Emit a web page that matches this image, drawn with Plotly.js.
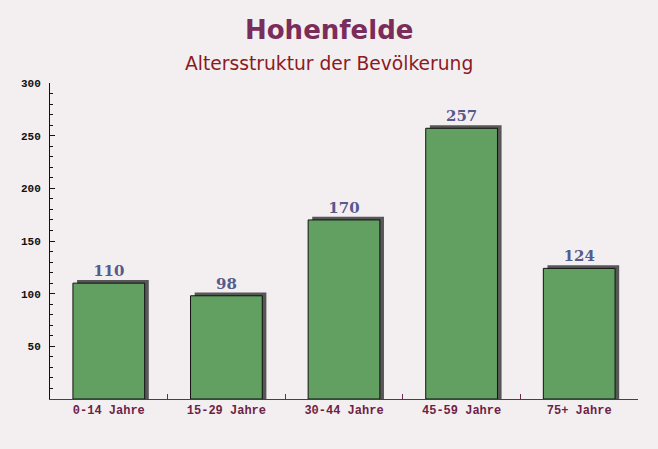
<!DOCTYPE html>
<html>
<head>
<meta charset="utf-8">
<script src="https://cdn.plot.ly/plotly-3.0.1.min.js"></script>
<style>html,body{margin:0;padding:0;background:#f3eff1;}</style>
</head>
<body>
<div id="chart" style="width:658px;height:449px;"></div>
<script>
const categories = ["0-14 Jahre", "15-29 Jahre", "30-44 Jahre", "45-59 Jahre", "75+ Jahre"];
const values = [110, 98, 170, 257, 124];
const yTicks = [50, 100, 150, 200, 250, 300];
const titleText = "Hohenfelde";
const subtitleText = "Altersstruktur der Bevölkerung";

const barWidth = 0.61;
const shadowDx = 0.035;
const shadowDy = 3;

const shadow = {
  type: "bar",
  x: categories,
  y: values.map(v => v + shadowDy),
  width: barWidth,
  offset: -barWidth / 2 + shadowDx,
  marker: {color: "rgba(70,70,70,0.9)", line: {width: 0}},
  hoverinfo: "skip",
  showlegend: false
};

const bars = {
  type: "bar",
  x: categories,
  y: values,
  width: barWidth,
  offset: -barWidth / 2,
  marker: {color: "rgb(98,160,98)", line: {color: "#111", width: 1}},
  text: values.map(String),
  textposition: "outside",
  cliponaxis: false,
  textfont: {family: "DejaVu Serif, serif", size: 15, color: "#555b8a", weight: "bold"},
  showlegend: false
};

const cx = (329 - 50) / 588;

const layout = {
  width: 658,
  height: 449,
  paper_bgcolor: "#f3eff1",
  plot_bgcolor: "rgba(0,0,0,0)",
  margin: {l: 50, r: 20, t: 83, b: 50},
  barmode: "overlay",
  annotations: [
    {text: "<b>" + titleText + "</b>", xref: "paper", yref: "paper", x: cx, y: 1, yshift: 53,
     xanchor: "center", yanchor: "middle", showarrow: false,
     font: {family: "DejaVu Sans, sans-serif", size: 26, color: "#7a2d5a"}},
    {text: subtitleText, xref: "paper", yref: "paper", x: cx, y: 1, yshift: 20,
     xanchor: "center", yanchor: "middle", showarrow: false,
     font: {family: "DejaVu Sans, sans-serif", size: 18.7, color: "#8b1a24"}}
  ],
  xaxis: {
    type: "category",
    range: [-0.5, 4.5],
    showline: true, linecolor: "#6e2a4e", linewidth: 1,
    ticks: "inside", tickson: "boundaries", ticklen: 5, tickcolor: "#6e2a4e",
    tickfont: {family: "Liberation Mono, DejaVu Sans Mono, monospace", size: 12, color: "#6e1f46", weight: "bold"},
    showgrid: false, zeroline: false, fixedrange: true
  },
  yaxis: {
    range: [0, 300],
    tickvals: yTicks,
    ticktext: yTicks.map(String),
    showline: true, linecolor: "#111", linewidth: 1,
    ticks: "inside", ticklen: 5, tickcolor: "#111",
    ticklabelstandoff: 6,
    minor: {dtick: 10, ticks: "inside", ticklen: 3, tickcolor: "#111"},
    tickfont: {family: "Liberation Mono, DejaVu Sans Mono, monospace", size: 11, color: "#111", weight: "bold"},
    showgrid: false, zeroline: false, fixedrange: true
  }
};

Plotly.newPlot("chart", [shadow, bars], layout, {displayModeBar: false, staticPlot: true});
</script>
</body>
</html>
